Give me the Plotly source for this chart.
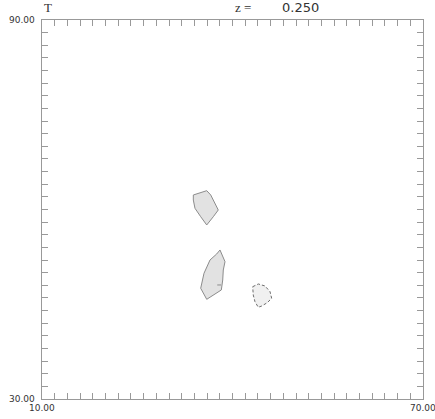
import plotly.graph_objects as go

# Axis ranges and tick spacing
x_range = [10.0, 70.0]
y_range = [30.0, 90.0]
tick_step = 2.0

x_tick_labels = ["10.00", "70.00"]
y_tick_labels = ["30.00", "90.00"]

title_left = "T"
title_z = "z ="
z_value = "0.250"

# Filled contour regions (x, y)
region_a_x = [33.83, 35.94, 36.57, 37.24, 37.76, 36.98, 35.94, 34.99, 34.09, 33.83]
region_a_y = [62.30, 62.98, 62.30, 60.98, 59.92, 58.86, 57.55, 58.86, 60.19, 61.50]

region_b_x = [38.03, 38.82, 38.55, 38.46, 38.24, 36.72, 35.94, 34.99, 35.51, 36.46, 37.51]
region_b_y = [53.59, 51.74, 50.42, 48.84, 47.26, 46.20, 45.78, 47.53, 49.90, 52.01, 52.96]

region_c_x = [43.18, 44.06, 45.12, 45.91, 46.17, 45.48, 44.60, 44.06, 43.54, 43.27]
region_c_y = [47.78, 48.21, 47.89, 46.99, 45.94, 45.25, 44.72, 44.52, 45.40, 46.46]

# Small label stroke inside region B
mark_x = [37.6, 38.2]
mark_y = [48.05, 48.05]

SANS = "DejaVu Sans, Verdana, sans-serif"
SERIF = "Liberation Serif, Times New Roman, serif"
TEXT_COLOR = "#333333"


def closed(xs, ys):
    return xs + xs[:1], ys + ys[:1]


fig = go.Figure()

ax, ay = closed(region_a_x, region_a_y)
fig.add_trace(go.Scatter(x=ax, y=ay, mode="lines", fill="toself",
                         fillcolor="#e2e2e2",
                         line=dict(color="#8c8c8c", width=1),
                         hoverinfo="skip", showlegend=False))

bx, by = closed(region_b_x, region_b_y)
fig.add_trace(go.Scatter(x=bx, y=by, mode="lines", fill="toself",
                         fillcolor="#e2e2e2",
                         line=dict(color="#8c8c8c", width=1),
                         hoverinfo="skip", showlegend=False))

cx, cy = closed(region_c_x, region_c_y)
fig.add_trace(go.Scatter(x=cx, y=cy, mode="lines", fill="toself",
                         fillcolor="#f0f0f0",
                         line=dict(color="#6e6e6e", width=1, dash="3px,2px"),
                         hoverinfo="skip", showlegend=False))

fig.add_trace(go.Scatter(x=mark_x, y=mark_y, mode="lines",
                         line=dict(color="#8c8c8c", width=1),
                         hoverinfo="skip", showlegend=False))

axis_common = dict(
    showgrid=False, zeroline=False, showline=True, linecolor="#999999",
    linewidth=1, mirror="ticks", ticks="inside", ticklen=6, tickwidth=1,
    tickcolor="#999999", automargin=False, showticklabels=False,
    tickmode="linear", dtick=tick_step,
)

fig.update_xaxes(range=x_range, tick0=x_range[0], **axis_common)
fig.update_yaxes(range=y_range, tick0=y_range[0], **axis_common)

# End labels of the axes
for xv, label in zip(x_range, x_tick_labels):
    fig.add_annotation(text=label, x=xv, y=0, xref="x", yref="paper",
                       xanchor="center", yanchor="top", yshift=-2,
                       showarrow=False,
                       font=dict(family=SANS, size=9, color=TEXT_COLOR))
for yv, label in zip(y_range, y_tick_labels):
    fig.add_annotation(text=label, x=0, y=yv, xref="paper", yref="y",
                       xanchor="right", yanchor="middle", xshift=-5,
                       showarrow=False,
                       font=dict(family=SANS, size=9, color=TEXT_COLOR))

fig.add_annotation(text=title_left, xref="paper", yref="paper", x=0.0, y=1.0,
                   xanchor="left", yanchor="bottom", yshift=3, showarrow=False,
                   font=dict(family=SERIF, size=13, color=TEXT_COLOR))
fig.add_annotation(text=title_z, xref="paper", yref="paper",
                   x=(233 - 42) / 381, y=1.0, xanchor="left", yanchor="bottom",
                   yshift=3, showarrow=False,
                   font=dict(family=SERIF, size=13, color=TEXT_COLOR))
fig.add_annotation(text=z_value, xref="paper", yref="paper",
                   x=(280 - 42) / 381, y=1.0, xanchor="left", yanchor="bottom",
                   yshift=3, showarrow=False,
                   font=dict(family=SANS, size=13, color=TEXT_COLOR))

fig.update_layout(
    width=435, height=419,
    margin=dict(l=42, r=12, t=20, b=20),
    paper_bgcolor="white", plot_bgcolor="white",
    showlegend=False,
)

fig.write_html("out.html")
